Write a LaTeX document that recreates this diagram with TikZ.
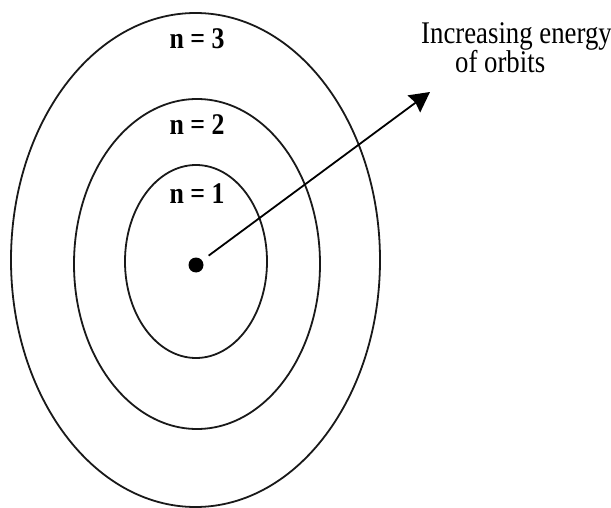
\documentclass[tikz,border=0pt]{standalone}
\usepackage{fontspec}
\usetikzlibrary{arrows.meta}
\newfontfamily\orbitfont[FakeStretch=0.85]{Liberation Serif}
\newfontfamily\levelfont[FakeStretch=0.86]{Liberation Serif}

\begin{document}
\begin{tikzpicture}[
    x=1pt, y=-1pt,
    % Styles
    orbit_line/.style={black!90, line width=1.8pt},
    nucleus_dot/.style={circle, fill=black, inner sep=0pt, minimum size=15pt},
    level_label/.style={font=\levelfont\bfseries\fontsize{30}{32}\selectfont, inner sep=0pt, anchor=base},
    note_text/.style={font=\orbitfont\fontsize{31.5}{34}\selectfont, inner sep=0pt, anchor=base west},
    energy_arrow/.style={line width=1.8pt, -{Stealth[length=20pt, width=21pt, inset=2pt]}, shorten <=8pt}
]
    \useasboundingbox (0,0) rectangle (611,508);

    % ==========================================
    % 1. ORBITS
    % ==========================================
    \draw[orbit_line] (196,261.5) ellipse [x radius=71pt, y radius=96.5pt];
    \draw[orbit_line] (197,264) ellipse [x radius=123pt, y radius=165pt];
    \draw[orbit_line] (195.5,260) ellipse [x radius=184.5pt, y radius=247pt];

    % ==========================================
    % 2. LEVEL LABELS
    % ==========================================
    \node[level_label] (n3) at (197,49) {n = 3};
    \node[level_label] (n2) at (197,135) {n = 2};
    \node[level_label] (n1) at (197,204) {n = 1};

    % ==========================================
    % 3. NUCLEUS AND ARROW
    % ==========================================
    \node[nucleus_dot] (nucleus) at (196,265) {};
    \coordinate (tip) at (430,92);
    \draw[energy_arrow] (nucleus) -- (tip);

    % ==========================================
    % 4. ANNOTATION
    % ==========================================
    \node[note_text] (note1) at (421,44) {Increasing energy};
    \node[note_text] (note2) at (455,73) {of orbits};

\end{tikzpicture}
\end{document}
